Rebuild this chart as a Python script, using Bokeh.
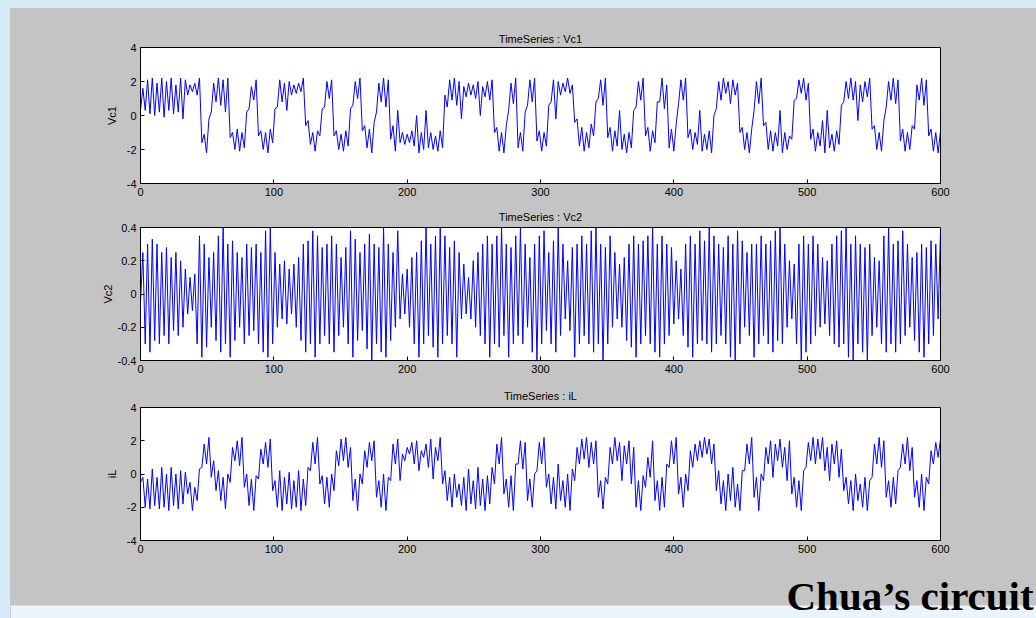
import numpy as np
from bokeh.plotting import figure
from bokeh.layouts import column
from bokeh.models import FixedTicker, LinearAxis, Label, BoxAnnotation, Range1d
from bokeh.embed import file_html
from bokeh.resources import INLINE

# ---------------- data (alternating trough / peak values) ----------------
x_ticks = [0, 100, 200, 300, 400, 500, 600]
x_tick_labels = ["0", "100", "200", "300", "400", "500", "600"]
v_ticks = [-4, -2, 0, 2, 4]
v_tick_labels = ["-4", "-2", "0", "2", "4"]
vc2_ticks = [-0.4, -0.2, 0, 0.2, 0.4]
vc2_tick_labels = ["-0.4", "-0.2", "0", "0.2", "0.4"]

vc1 = [
    0.3, 1.6, 0.3, 2.1, 0.1, 2.2, 0.0, 1.9, 0.2, 2.2, -0.1, 2.0, 0.3, 2.2, 0.1, 1.8, 0.2, 2.2, -0.2, 2.1,
    1.2, 1.8, 1.4, 1.9, 1.2, 2.2, -1.6, -1.1, -2.2, -0.2, 0.2, 1.9, 0.8, 2.2, 0.6, 2.1, 0.2, 2.2, -1.3, -1.0,
    -2.0, -0.8, -2.1, -1.0, -1.9, 0.2, 0.4, 1.7, 0.9, 2.1, -1.2, -0.9, -2.0, -1.0, -2.2, -0.8, -1.6, 0.4, 0.5, 2.1,
    0.8, 1.9, 0.3, 2.0, 1.2, 1.8, 1.3, 1.9, 1.4, 2.2, -0.6, -0.3, -1.7, -1.0, -2.1, -0.9, -1.2, 0.4, 0.5, 2.0,
    1.0, 2.1, -1.2, -0.9, -2.0, -1.1, -2.1, -0.9, -1.8, 0.4, 0.6, 2.0, 1.0, 2.2, -0.9, -0.6, -1.9, -0.8, -2.2, -0.4,
    0.2, 1.9, 0.8, 2.2, 0.5, 2.1, -1.4, -0.6, -2.1, 0.3, -1.6, -1.0, -1.7, -1.1, -1.6, -0.9, -1.8, 0.0, -2.2, -1.0,
    -2.0, 0.3, -1.9, -1.0, -2.0, -1.2, -2.1, -0.9, -1.9, 1.2, 0.5, 2.1, 0.9, 2.2, 0.6, 2.0, -0.2, 1.7, 1.1, 1.9,
    1.2, 1.8, 1.0, 2.0, 0.0, 1.7, 1.1, 2.0, 0.9, 2.1, -1.0, -0.7, -2.1, -1.0, -2.2, -0.6, 0.3, 1.9, 0.7, 2.2,
    -1.9, -1.0, -2.1, 0.2, 0.6, 2.1, 0.8, 2.2, -1.5, -0.9, -2.1, -1.0, -1.8, 0.6, 0.8, 2.1, -0.2, 2.0, 1.2, 1.9,
    1.4, 2.2, 1.3, 1.8, -0.4, -0.2, -1.8, -0.7, -2.1, -1.0, -1.9, -0.5, -1.2, 0.8, 1.0, 2.1, 0.6, 2.2, -1.3, -0.7,
    -2.1, -0.9, -1.8, 0.3, -2.0, -1.1, -2.2, -1.0, -1.9, 0.3, 0.5, 2.0, 0.9, 2.2, -1.2, -0.7, -2.1, -0.9, -1.6, 0.8,
    0.8, 2.2, 0.4, 1.8, -1.9, -0.8, -2.1, -0.5, 0.7, 2.1, 0.9, 2.2, -1.3, -0.8, -2.0, -1.0, -1.7, 0.3, -2.1, -1.1,
    -2.0, -0.9, -2.2, 0.0, 0.4, 2.0, 0.9, 2.2, 1.3, 2.0, 0.7, 2.1, 1.2, 1.9, -1.0, -0.7, -2.0, -1.0, -2.2, -0.8,
    0.3, 2.0, 0.7, 2.2, -0.6, -0.4, -2.0, -0.9, -2.1, -1.0, -1.8, 0.3, -2.2, -1.0, -2.0, -1.2, -1.4, 0.9, 1.0, 2.1,
    1.3, 2.2, 0.9, 1.9, -1.4, -0.8, -2.1, -1.0, -1.8, -0.3, -2.2, 0.3, -1.9, -1.1, -2.1, -0.9, -1.7, 0.6, 0.8, 2.0,
    1.0, 2.2, 0.9, 2.0, -0.3, 1.8, 0.8, 2.0, 1.1, 2.2, -0.8, -0.6, -2.0, -1.0, -2.1, -0.3, 0.5, 2.0, 0.9, 2.2,
    0.7, 2.1, -1.5, -0.8, -2.1, -1.0, -2.0, -0.6, -0.8, 1.8, 0.9, 2.2, 0.6, 2.1, -1.2, -0.8, -2.1, -1.0, -2.2, -0.9,
]

vc2 = [
    -0.05, 0.25, -0.30, 0.30, -0.35, 0.33, -0.28, 0.30, -0.30, 0.25, -0.25, 0.28, -0.30, 0.22, -0.22, 0.25, -0.25, 0.20, -0.20, 0.15,
    -0.12, 0.10, -0.10, 0.12, -0.30, 0.35, -0.38, 0.30, -0.32, 0.22, -0.20, 0.25, -0.28, 0.35, -0.35, 0.40, -0.30, 0.30, -0.38, 0.32,
    -0.28, 0.25, -0.20, 0.22, -0.30, 0.30, -0.25, 0.28, -0.22, 0.30, -0.30, 0.25, -0.35, 0.38, -0.38, 0.40, -0.30, 0.25, -0.20, 0.18,
    -0.15, 0.20, -0.18, 0.15, -0.12, 0.18, -0.20, 0.22, -0.28, 0.30, -0.35, 0.32, -0.30, 0.38, -0.38, 0.35, -0.30, 0.28, -0.25, 0.30,
    -0.30, 0.35, -0.35, 0.30, -0.25, 0.22, -0.20, 0.28, -0.30, 0.38, -0.38, 0.33, -0.28, 0.25, -0.22, 0.30, -0.33, 0.36, -0.40, 0.30,
    -0.30, 0.28, -0.35, 0.40, -0.38, 0.30, -0.28, 0.25, -0.20, 0.38, -0.15, 0.12, -0.12, 0.15, -0.20, 0.22, -0.30, 0.25, -0.38, 0.32,
    -0.30, 0.40, -0.25, 0.30, -0.32, 0.35, -0.38, 0.40, -0.30, 0.35, -0.25, 0.28, -0.30, 0.32, -0.38, 0.25, -0.15, 0.18, -0.12, 0.10,
    -0.15, 0.20, -0.20, 0.25, -0.25, 0.30, -0.30, 0.35, -0.38, 0.30, -0.30, 0.35, -0.32, 0.40, -0.25, 0.30, -0.38, 0.28, -0.30, 0.35,
    -0.25, 0.40, -0.30, 0.30, -0.20, 0.22, -0.35, 0.30, -0.40, 0.35, -0.30, 0.38, -0.22, 0.25, -0.30, 0.32, -0.35, 0.40, -0.25, 0.30,
    -0.15, 0.20, -0.22, 0.28, -0.38, 0.30, -0.30, 0.35, -0.25, 0.30, -0.30, 0.38, -0.35, 0.40, -0.30, 0.30, -0.40, 0.28, -0.30, 0.35,
    -0.20, 0.25, -0.15, 0.18, -0.20, 0.22, -0.28, 0.30, -0.32, 0.35, -0.38, 0.30, -0.30, 0.32, -0.25, 0.35, -0.30, 0.40, -0.35, 0.30,
    -0.38, 0.35, -0.30, 0.30, -0.25, 0.28, -0.18, 0.20, -0.15, 0.15, -0.25, 0.30, -0.32, 0.35, -0.38, 0.30, -0.30, 0.38, -0.28, 0.32,
    -0.30, 0.40, -0.35, 0.35, -0.30, 0.30, -0.25, 0.28, -0.30, 0.35, -0.38, 0.30, -0.40, 0.38, -0.30, 0.32, -0.20, 0.25, -0.25, 0.30,
    -0.38, 0.30, -0.30, 0.35, -0.25, 0.30, -0.30, 0.32, -0.35, 0.38, -0.28, 0.40, -0.30, 0.30, -0.20, 0.20, -0.15, 0.18, -0.30, 0.30,
    -0.40, 0.35, -0.35, 0.30, -0.30, 0.35, -0.25, 0.30, -0.20, 0.22, -0.18, 0.20, -0.25, 0.30, -0.30, 0.35, -0.32, 0.38, -0.30, 0.40,
    -0.38, 0.30, -0.40, 0.35, -0.30, 0.30, -0.35, 0.28, -0.40, 0.30, -0.25, 0.22, -0.20, 0.20, -0.30, 0.35, -0.35, 0.40, -0.30, 0.30,
    -0.35, 0.32, -0.30, 0.38, -0.25, 0.30, -0.20, 0.22, -0.28, 0.25, -0.35, 0.30, -0.38, 0.28, -0.30, 0.32, -0.25, 0.30, -0.15, 0.38,
]

il = [
    -0.5, -0.2, -2.0, -0.3, -2.1, 0.3, -1.9, -0.2, -2.1, 0.4, -2.0, 0.0, -2.2, 0.4, -1.9, 0.0, -2.1, 0.2, -1.8, 0.1,
    -1.2, -0.5, -2.2, -0.8, -1.6, 0.3, 0.4, 1.8, 0.6, 2.2, -0.2, 0.8, -1.0, 0.2, -1.6, -0.2, -2.1, 0.0, -0.5, 1.6,
    0.8, 2.0, 0.5, 2.2, -0.8, 0.0, -1.9, -0.3, -2.2, -0.1, -0.3, 1.5, 0.6, 1.9, 0.4, 2.1, -1.0, -0.4, -2.0, 0.2,
    -2.2, -0.2, -1.8, 0.1, -2.1, -0.4, -2.0, 0.2, -2.2, -0.3, -1.9, 0.4, 0.2, 1.9, 0.6, 2.2, -0.6, -0.1, -1.8, -0.2,
    -2.0, 0.0, -1.0, 1.4, 0.5, 2.1, 0.8, 2.2, 0.4, 1.6, -1.6, -0.3, -2.2, 0.0, -0.6, 1.4, 0.4, 1.9, 0.8, 2.0,
    -1.4, -0.4, -2.0, 0.0, -2.2, -0.2, -0.4, 1.8, 0.6, 2.1, -0.4, 1.2, 0.8, 1.6, 1.2, 1.9, 0.6, 2.0, 0.2, 1.4,
    1.0, 1.8, 0.4, 2.1, -0.3, 1.6, 0.8, 2.2, -0.6, 0.2, -1.6, -0.2, -2.0, 0.0, -1.4, -0.6, -1.9, -0.2, -2.2, 0.3,
    -1.8, -0.4, -2.1, 0.4, -1.9, -0.3, -2.2, -0.1, -1.8, 0.4, -0.6, 1.8, 0.6, 2.2, -1.2, -0.3, -2.0, -0.1, -2.2, 0.6,
    0.6, 2.0, 0.3, 1.9, -1.6, -0.3, -2.0, 0.0, 0.2, 1.9, 0.6, 2.2, -0.8, 0.0, -1.8, -0.2, -2.1, 0.6, -1.6, -0.4,
    -2.0, 0.0, -2.2, 0.3, -0.4, 1.6, 0.6, 2.1, 0.9, 2.2, 0.4, 1.9, 0.6, 2.0, -1.4, -0.4, -2.1, -0.2, -0.6, 1.6,
    0.6, 2.2, 0.8, 1.9, -0.4, 1.7, 0.6, 2.0, -0.6, 1.6, -2.0, -0.4, -2.2, -0.1, -0.8, 1.0, -0.2, 2.0, -1.6, -0.4,
    -2.2, -0.2, -2.0, 0.6, 0.4, 2.0, 0.6, 2.2, -1.2, -0.2, -2.0, 0.0, -1.0, 1.4, 0.4, 1.8, 0.8, 2.0, 1.0, 2.2,
    1.2, 2.1, 0.6, 1.8, -1.0, 0.2, -1.8, -0.4, -2.2, 0.0, -1.6, 0.4, -2.0, -0.6, -2.2, 0.2, 0.2, 1.8, 0.6, 2.2,
    -1.4, -0.2, -2.2, 0.0, -0.4, 1.6, 0.6, 2.0, -0.2, 1.8, 0.8, 2.1, 0.4, 1.6, -0.4, 2.0, -1.2, -0.2, -2.0, -0.4,
    -2.2, 0.2, 0.4, 1.9, 0.8, 2.2, 0.6, 2.1, 0.9, 2.2, 0.2, 1.6, -0.4, 1.8, 0.6, 2.0, -0.2, 1.5, -1.0, -0.2,
    -1.8, -0.4, -2.2, 0.0, -1.6, -0.6, -2.0, -0.2, -2.2, -0.4, -0.2, 1.8, 0.6, 2.2, 0.4, 2.0, -1.4, -0.4, -2.0, -0.2,
    -1.8, 0.2, 0.4, 1.8, 0.6, 2.2, 0.2, 1.6, -1.4, -0.4, -2.0, 0.0, -2.2, -0.2, -0.6, 1.4, 0.6, 1.9, 1.0, 2.1,
]

# ---------------- styling ----------------
GRAY = "#c4c4c4"
LIGHT = "#d6eaf8"
FONT = "Liberation Sans"
W = 1026  # inner width (page x 10 .. 1036)


def panel(title, ylabel, y, yr, yticks, ylabels, height, top, bottom, label_standoff, title_standoff):
    t = np.linspace(0, 600, len(y))
    p = figure(width=W, height=height, x_range=Range1d(0, 600), y_range=Range1d(*yr),
               output_backend="svg", toolbar_location=None,
               min_border_left=130, min_border_right=96,
               min_border_top=top, min_border_bottom=bottom,
               title=title, x_axis_location=None, y_axis_location=None)
    p.background_fill_color = "white"
    p.border_fill_color = GRAY
    p.outline_line_color = "black"
    p.outline_line_width = 1
    p.xgrid.visible = False
    p.ygrid.visible = False
    p.title.align = "center"
    p.title.text_font = FONT
    p.title.text_font_size = "11px"
    p.title.text_font_style = "normal"
    p.title.text_color = "black"
    p.title.standoff = title_standoff

    xb = LinearAxis(ticker=FixedTicker(ticks=x_ticks),
                    major_label_overrides=dict(zip(x_ticks, x_tick_labels)))
    yl = LinearAxis(ticker=FixedTicker(ticks=yticks), axis_label=ylabel,
                    major_label_overrides=dict(zip(yticks, ylabels)))
    for ax in (xb, yl):
        ax.major_tick_in = 4
        ax.major_tick_out = 0
        ax.minor_tick_line_color = None
        ax.axis_line_color = "black"
        ax.major_tick_line_color = "black"
        ax.major_label_text_font = FONT
        ax.major_label_text_font_size = "11px"
        ax.major_label_text_color = "black"
        ax.major_label_standoff = 4
    yl.axis_label_text_font = FONT
    yl.axis_label_text_font_size = "11px"
    yl.axis_label_text_font_style = "normal"
    yl.axis_label_text_color = "black"
    yl.axis_label_standoff = label_standoff
    p.add_layout(xb, "below")
    p.add_layout(yl, "left")

    p.line(t, y, line_color="#0000ff", line_width=1)
    return p


# page rows: p1 8..200, p2 200..380, p3 380..560, caption 560..618
p1 = panel("TimeSeries : Vc1", "Vc1", vc1, (-4, 4), v_ticks, v_tick_labels, 192, 39, 17, 6, 5)
p2 = panel("TimeSeries : Vc2", "Vc2", vc2, (-0.4, 0.4), vc2_ticks, vc2_tick_labels, 180, 27, 20, 1, 10)
p3 = panel("TimeSeries : iL", "iL", il, (-4, 4), v_ticks, v_tick_labels, 180, 27, 20, 6, 11)

# caption strip at the bottom of the slide
CAP_H = 58
p4 = figure(width=W, height=CAP_H, x_range=Range1d(0, W), y_range=Range1d(0, CAP_H),
            output_backend="svg", toolbar_location=None,
            min_border=0, x_axis_location=None, y_axis_location=None)
p4.background_fill_color = GRAY
p4.border_fill_color = GRAY
p4.outline_line_color = None
p4.xgrid.visible = False
p4.ygrid.visible = False
p4.add_layout(BoxAnnotation(left=0, right=W, top=45, bottom=CAP_H,
                            left_units="canvas", right_units="canvas",
                            top_units="canvas", bottom_units="canvas",
                            fill_color="#eaf4fc", fill_alpha=1.0, line_color=None))
p4.add_layout(Label(x=776, y=35, x_units="canvas", y_units="canvas",
                    text="Chua\u2019s circuit", text_font="Liberation Serif",
                    text_font_size="41px", text_font_style="bold", text_color="black",
                    text_baseline="alphabetic"))

plots = column(p1, p2, p3, spacing=0)
inner = column(plots, p4, spacing=0, margin=(8, 0, 0, 10),
               styles={"background-color": GRAY})
layout = column(inner, spacing=0, styles={"background-color": LIGHT})
open("out.html", "w").write(file_html(layout, INLINE))
